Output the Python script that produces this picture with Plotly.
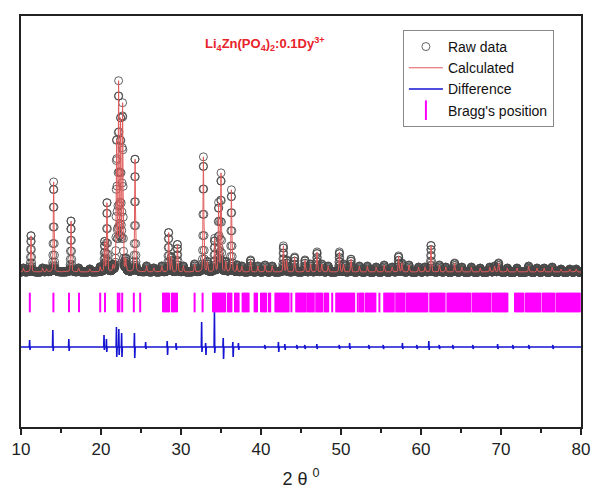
import numpy as np
import plotly.graph_objects as go

# ---- data ----
# observed reflections: position (2theta, deg) and peak height (counts above background)
peak_pos = [10.3, 11.25, 12.7, 13.2, 14.08, 16.25, 17.2, 18.6, 19.9, 20.45, 20.75, 21.5,
            21.95, 22.2, 22.45, 22.7, 23.1, 24.25, 25.7, 26.6, 27.6, 28.45, 28.8, 29.55,
            30.3, 31.7, 32.8, 33.3, 34.2, 34.7, 35.0, 35.6, 36.3, 37.0, 37.6, 38.7, 39.6,
            40.5, 41.4, 42.8, 43.2, 44.2, 45.5, 46.2, 47.0, 47.6, 48.4, 49.8, 50.3, 51.25,
            52.3, 53.3, 54.4, 55.4, 56.4, 57.2, 57.6, 58.5, 59.7, 60.5, 61.25, 62.3, 63.1,
            64.2, 65.1, 66.3, 67.4, 68.6, 69.2, 69.7, 70.8, 72.0, 73.45, 74.5, 75.4, 76.4,
            77.5, 78.6, 79.4]
peak_height = [40, 370, 40, 30, 900, 520, 40, 30, 50, 300, 700, 60,
               1300, 1850, 1500, 1650, 120, 1150, 60, 40, 60, 400, 150, 280,
               60, 80, 1150, 100, 330, 680, 980, 100, 820, 70, 60, 120, 60,
               70, 60, 260, 120, 150, 120, 80, 200, 80, 60, 200, 80, 130,
               60, 60, 50, 70, 50, 160, 90, 70, 50, 50, 270, 70, 50,
               90, 50, 50, 40, 50, 60, 90, 40, 40, 60, 40, 40, 50,
               30, 30, 30]
background = 750
hwhm = 0.06
step = 0.02

# difference curve spikes: position, upward and downward excursion (counts)
diff_pos = [11.1, 14.0, 16.0, 20.4, 20.7, 21.95, 22.25, 22.6, 24.2, 25.6, 28.3, 29.4,
            32.6, 33.1, 34.2, 35.3, 36.5, 37.2, 40.5, 42.2, 43.0, 44.5, 45.5, 47.0,
            49.8, 51.1, 53.5, 55.3, 57.7, 59.5, 61.0, 62.3, 64.0, 66.5, 69.6, 71.5,
            73.5, 76.5]
diff_up = [70, 170, 80, 120, 80, 200, 180, 140, 140, 50, 60, 40,
           250, 40, 350, 90, 50, 40, 20, 50, 30, 20, 20, 30,
           20, 40, 20, 20, 40, 20, 60, 20, 20, 20, 30, 20,
           20, 20]
diff_down = [30, 40, 40, 30, 50, 100, 80, 100, 110, 20, 80, 30,
             50, 80, 60, 120, 100, 30, 20, 50, 30, 20, 20, 20,
             20, 20, 20, 20, 20, 20, 30, 20, 20, 20, 20, 20,
             20, 20]
diff_offset = 0

# Bragg reflection positions
bragg = [11.1, 14.05, 16.0, 17.25, 19.9, 20.5, 22.1, 22.3, 22.65, 24.1, 24.9,
         27.75, 27.9, 28.05, 28.2, 28.35, 28.5, 28.85, 29.0, 29.15, 29.3, 29.5,
         31.7, 32.7,
         34.0, 34.15, 34.3, 34.45, 34.6, 34.75, 34.9, 35.05, 35.2, 35.35, 35.5,
         35.85, 36.0, 36.15, 36.3, 36.75, 36.9, 37.05, 37.2,
         37.7, 37.85, 38.0, 38.15, 38.3, 38.45, 39.2, 39.35, 39.5,
         40.0, 40.2, 40.35, 40.5, 40.65, 41.0, 41.15,
         41.8, 41.95, 42.1, 42.25, 42.4, 42.55, 42.7, 42.85, 43.0, 43.15, 43.3, 43.45,
         43.8, 44.4, 44.55, 44.7, 44.85, 45.0, 45.15, 45.3, 45.45, 45.6,
         45.85, 46.0, 46.15, 46.3, 46.45, 46.6, 46.9, 47.05, 47.2, 47.35, 47.5, 47.65,
         47.95, 48.1, 48.25, 48.4, 48.9,
         49.4, 49.55, 49.7, 49.85, 50.0, 50.15, 50.3, 50.45, 50.6, 50.75, 50.9, 51.05,
         51.2, 51.35, 51.5, 51.65, 52.1, 52.35, 52.5, 52.65, 52.8,
         53.1, 53.25, 53.4, 53.55, 53.7, 53.85, 54.0, 54.15, 54.3, 54.8,
         55.4, 55.55, 55.7, 55.85, 56.0, 56.15, 56.3, 56.45, 56.6, 56.9, 57.05, 57.2,
         57.35, 57.5, 57.65, 57.8, 57.95, 58.25, 58.4, 58.55, 58.7, 58.85, 59.0, 59.15,
         59.3, 59.45, 59.6, 59.75, 59.9, 60.05, 60.2, 60.35, 60.5, 60.65, 60.8,
         61.15, 61.3, 61.45, 61.6, 61.75, 61.9, 62.05, 62.2, 62.35, 62.5, 62.65, 62.8,
         62.95, 63.3, 63.45, 63.6, 63.75, 63.9, 64.05, 64.2, 64.35, 64.5, 64.65, 64.8,
         64.95, 65.1, 65.25, 65.4, 65.55, 65.7, 65.85, 66.0, 66.15, 66.45, 66.6, 66.75,
         66.9, 67.05, 67.2, 67.35, 67.5, 67.65, 67.8, 67.95, 68.1, 68.25, 68.4, 68.55,
         68.7, 69.0, 69.15, 69.3, 69.45, 69.6, 69.75, 69.9, 70.05, 70.2, 70.35, 70.5,
         70.65, 70.8,
         71.75, 71.9, 72.05, 72.2, 72.35, 72.5, 72.65, 72.8, 73.1, 73.25, 73.4, 73.55,
         73.7, 73.85, 74.0, 74.15, 74.3, 74.45, 74.6, 74.75, 74.9, 75.2, 75.35, 75.5,
         75.65, 75.8, 75.95, 76.1, 76.25, 76.4, 76.55, 76.7, 77.0, 77.15, 77.3, 77.45,
         77.6, 77.75, 77.9, 78.05, 78.2, 78.35, 78.5, 78.65, 78.8, 78.95, 79.1, 79.25,
         79.4, 79.55, 79.7, 79.85]
bragg_level = 445

x_ticks = [10, 20, 30, 40, 50, 60, 70, 80]

# ---- build profiles from the peak table ----
tt = np.round(np.arange(10, 80 + step / 2, step), 4)
prof = np.full_like(tt, background, dtype=float)
for p, h in zip(peak_pos, peak_height):
    d = (tt - p) / hwhm
    prof += h * (0.35 / (1 + d ** 2) + 0.65 * np.exp(-np.log(2) * d ** 2))

dx, dy = [10.0], [diff_offset]
for p, u, dn in zip(diff_pos, diff_up, diff_down):
    dx += [p - 0.06, p - 0.02, p + 0.02, p + 0.07]
    dy += [diff_offset, diff_offset + u, diff_offset - dn, diff_offset]
dx.append(80.0)
dy.append(diff_offset)

fig = go.Figure()
fig.add_trace(go.Scatter(
    x=tt, y=prof, mode="markers", name="Raw data",
    marker=dict(symbol="circle-open", size=8, color="rgba(70,70,70,0.85)",
                line=dict(width=1))))
fig.add_trace(go.Scatter(
    x=tt, y=prof, mode="lines", name="Calculated",
    line=dict(color="rgb(225,90,90)", width=1)))
fig.add_trace(go.Scatter(
    x=dx, y=dy, mode="lines", name="Difference",
    line=dict(color="rgb(20,20,210)", width=1.6)))
fig.add_trace(go.Scatter(
    x=bragg, y=[bragg_level] * len(bragg), mode="markers", name="Bragg's position",
    marker=dict(symbol="line-ns-open", size=14, color="#ff00ff",
                line=dict(width=2, color="#ff00ff"))))

fig.update_layout(
    width=591, height=489,
    margin=dict(l=21, r=10, t=16, b=62, autoexpand=False),
    paper_bgcolor="white", plot_bgcolor="white",
    font=dict(family="Arial, Liberation Sans, sans-serif", color="#222"),
    showlegend=True,
    legend=dict(x=0.682, y=0.966, xanchor="left", yanchor="top",
                bgcolor="white", bordercolor="#888", borderwidth=1,
                font=dict(size=14, color="#111"), tracegroupgap=0,
                itemwidth=34),
    annotations=[dict(
        text="<b>Li<sub>4</sub>Zn(PO<sub>4</sub>)<sub>2</sub>:0.1Dy<sup>3+</sup></b>",
        xref="paper", yref="paper", x=0.436, y=0.932,
        showarrow=False, font=dict(size=13, color="#e8232a", family="Arial"),
        xanchor="center", yanchor="middle")],
)
fig.update_xaxes(
    range=[10, 80], tickvals=x_ticks, ticks="outside", ticklen=6, tickwidth=1.5,
    tickcolor="#222", showline=True, linecolor="#222", linewidth=1.5, mirror=True,
    showgrid=False, zeroline=False, tickfont=dict(size=17, color="#222"),
    automargin=False,
    minor=dict(dtick=5, tick0=10, ticks="outside", ticklen=4, tickwidth=1.5,
               tickcolor="#222", showgrid=False),
    title=dict(text="2 θ <sup>0</sup>", font=dict(size=18, color="#222"), standoff=20))
fig.update_yaxes(
    range=[-800, 3310], showticklabels=False, ticks="", showline=True, automargin=False,
    linecolor="#222", linewidth=1.5, mirror=True, showgrid=False, zeroline=False)

fig.write_html("out.html")
